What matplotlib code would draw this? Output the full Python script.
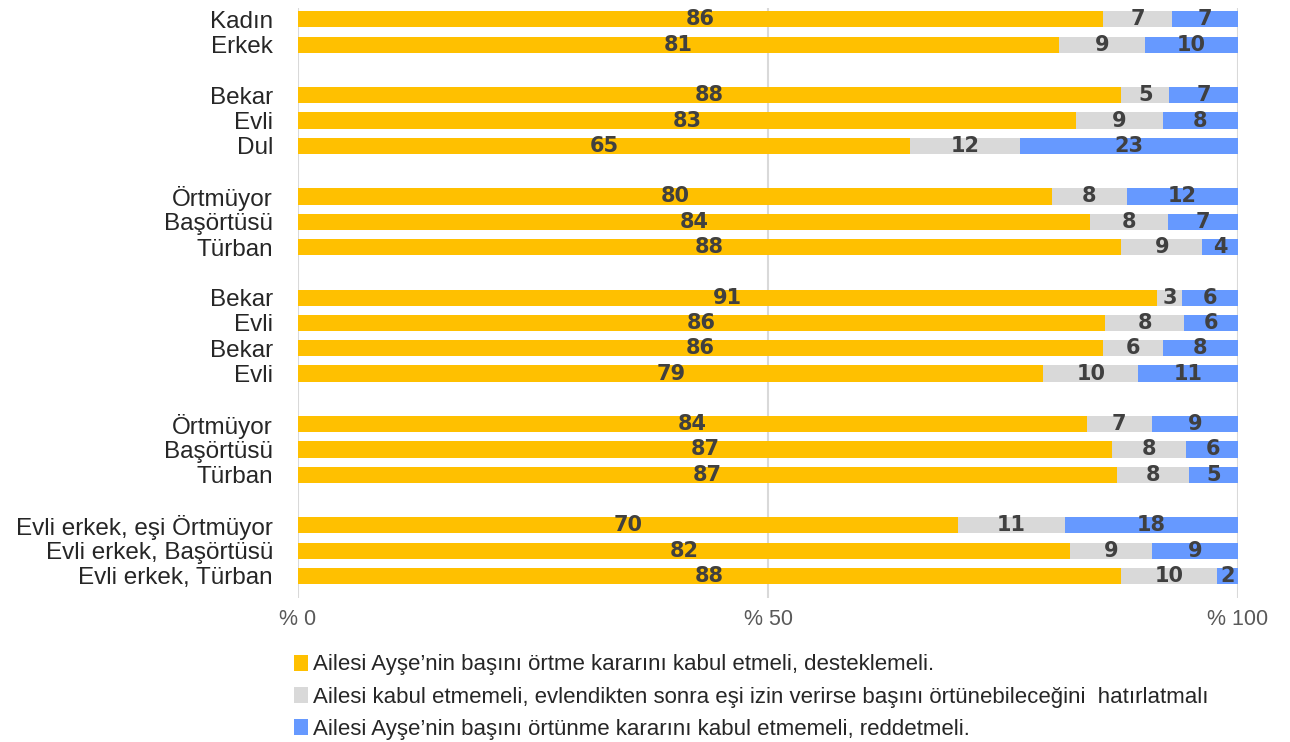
import matplotlib.pyplot as plt
import numpy as np
from matplotlib.patches import Patch

# groups of rows, one empty slot between groups
groups = [
    ['Kadın', 'Erkek'],
    ['Bekar', 'Evli', 'Dul'],
    ['Örtmüyor', 'Başörtüsü', 'Türban'],
    ['Bekar', 'Evli', 'Bekar', 'Evli'],
    ['Örtmüyor', 'Başörtüsü', 'Türban'],
    ['Evli erkek, eşi Örtmüyor', 'Evli erkek, Başörtüsü', 'Evli erkek, Türban'],
]

# percentages (top to bottom)
kabul = [85.6, 81.0, 87.6, 82.8, 65.1, 80.2, 84.3, 87.6, 91.4, 85.9,
         85.6, 79.3, 83.9, 86.6, 87.1, 70.2, 82.1, 87.6]
hatirlat = [7.4, 9.1, 5.1, 9.2, 11.7, 8.0, 8.3, 8.6, 2.6, 8.4,
            6.4, 10.1, 6.9, 7.9, 7.7, 11.4, 8.8, 10.2]
red = [7.0, 9.9, 7.3, 8.0, 23.2, 11.8, 7.4, 3.8, 6.0, 5.7,
       8.0, 10.6, 9.2, 5.6, 5.2, 18.4, 9.1, 2.2]

series_names = [
    'Ailesi Ayşe’nin başını örtme kararını kabul etmeli, desteklemeli.',
    'Ailesi kabul etmemeli, evlendikten sonra eşi izin verirse başını örtünebileceğini  hatırlatmalı',
    'Ailesi Ayşe’nin başını örtünme kararını kabul etmemeli, reddetmeli.',
]
colors = ['#FFC000', '#D9D9D9', '#6699FF']

labels = []
ypos = []
slot = 0
for g in groups:
    for name in g:
        labels.append(name)
        ypos.append(slot)
        slot += 1
    slot += 1
ypos = np.array(ypos)

fig = plt.figure(figsize=(12.9, 7.42), dpi=100)
ax = fig.add_axes([298/1290, 1 - 598/742, 940/1290, 590/742])

left = np.zeros(len(labels))
for vals, col in zip([kabul, hatirlat, red], colors):
    vals = np.array(vals)
    ax.barh(ypos, vals, left=left, height=0.64, color=col, zorder=3)
    for y, l, v in zip(ypos, left, vals):
        ax.text(l + v/2, y, '{:.0f}'.format(v), ha='center', va='center',
                fontsize=15, fontweight='heavy', color='#404040',
                family='DejaVu Sans', zorder=4)
    left = left + vals

ax.set_xlim(0, 100)
ax.set_ylim(22.87, -0.45)
ax.set_xticks([0, 50, 100])
ax.set_xticklabels(['% 0', '% 50', '% 100'], family='Liberation Sans',
                   fontsize=15.5, color='#595959')
ax.set_yticks(ypos)
ax.set_yticklabels(labels, family='Liberation Sans', fontsize=17.5, color='#262626')
ax.tick_params(axis='y', length=0, pad=18)
ax.tick_params(axis='x', length=0, pad=8)
ax.grid(axis='x', color='#D9D9D9', linewidth=1.5, zorder=0)
for s in ax.spines.values():
    s.set_visible(False)

handles = [Patch(facecolor=c, edgecolor='none') for c in colors]
fig.legend(handles, series_names, loc='upper left', bbox_to_anchor=(290/1290, 1 - 650/742),
           frameon=False, ncol=1, handlelength=0.6, handleheight=0.75, handletextpad=0.25,
           labelspacing=0.5, borderaxespad=0, borderpad=0.2,
           prop={'family': 'Liberation Sans', 'size': 16},
           labelcolor='#262626')

fig.savefig('out.png', dpi=100)
